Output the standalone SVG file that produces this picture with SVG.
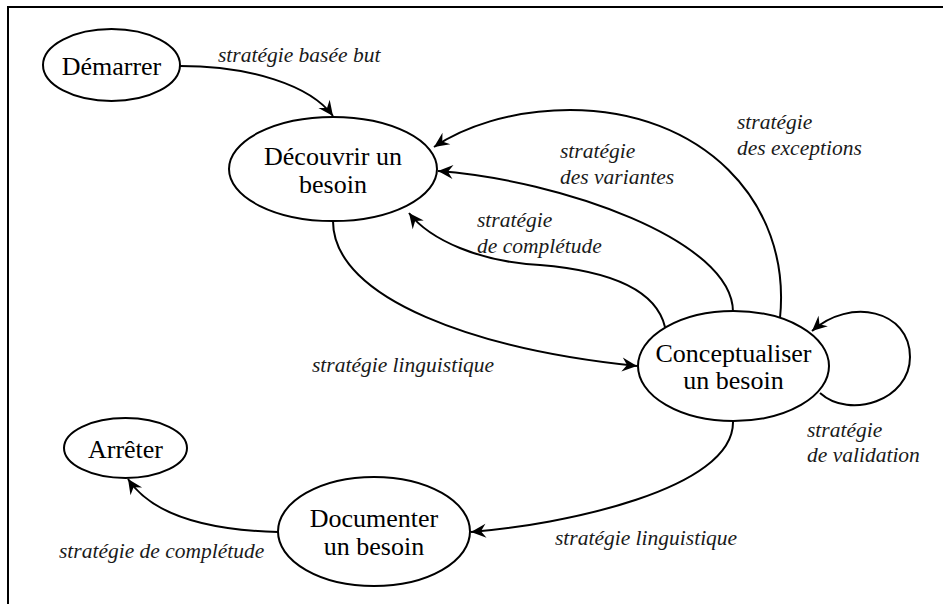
<svg xmlns="http://www.w3.org/2000/svg" width="943" height="604" viewBox="0 0 943 604" font-family="Liberation Serif, Times New Roman, serif">
  <style>
    .node ellipse { fill: #ffffff; stroke: #000000; stroke-width: 2; }
    .node text { font-size: 26px; fill: #000000; text-anchor: middle; }
    .edge { fill: none; stroke: #000000; stroke-width: 2; marker-end: url(#arrow); }
    .lbl { font-style: italic; font-size: 21.5px; fill: #1a1a1a; }
    .frame { fill: none; stroke: #000000; stroke-width: 2; }
  </style>
  <defs>
    <marker id="arrow" viewBox="-16 -8 17 16" refX="0" refY="0" markerWidth="17" markerHeight="16" markerUnits="userSpaceOnUse" orient="auto">
      <path d="M0,0 L-15,-7 L-10,0 L-15,7 Z" fill="#000000"/>
    </marker>
  </defs>

  <rect width="943" height="604" fill="#ffffff"/>
  <!-- open frame: top and left sides only -->
  <path class="frame" d="M8,604 L8,7 L943,7"/>

  <!-- connectors -->
  <g id="edges">
    <path class="edge" d="M180,66 C250,66 310,85 333,116"/>
    <path class="edge" d="M333,221 C333,300 480,350 637,366"/>
    <path class="edge" d="M665,327 C655,285 600,270 540,265 C480,262 430,240 409,213"/>
    <path class="edge" d="M733,312 C733,240 560,180 438,171"/>
    <path class="edge" d="M780,318 C792,200 700,110 570,110 C510,110 462,128 434,147"/>
    <path class="edge" d="M820,393 C850,420 910,400 910,357 C910,310 850,297 812,331"/>
    <path class="edge" d="M733,421 C735,490 560,525 471,532"/>
    <path class="edge" d="M278,532 C200,530 150,512 128,479"/>
  </g>

  <!-- connector labels -->
  <g id="labels" font-family="Liberation Serif, serif">
    <text class="lbl" x="218" y="62">stratégie basée but</text>
    <text class="lbl" x="737" y="129">stratégie</text>
    <text class="lbl" x="737" y="155">des exceptions</text>
    <text class="lbl" x="560" y="158">stratégie</text>
    <text class="lbl" x="560" y="184">des variantes</text>
    <text class="lbl" x="477" y="227">stratégie</text>
    <text class="lbl" x="477" y="253">de complétude</text>
    <text class="lbl" x="312" y="372">stratégie linguistique</text>
    <text class="lbl" x="807" y="437">stratégie</text>
    <text class="lbl" x="807" y="462">de validation</text>
    <text class="lbl" x="555" y="545">stratégie linguistique</text>
    <text class="lbl" x="59" y="558">stratégie de complétude</text>
  </g>

  <!-- nodes -->
  <g id="demarrer" class="node">
    <ellipse cx="111.5" cy="65" rx="68.5" ry="36"/>
    <text x="111.5" y="75">Démarrer</text>
  </g>
  <g id="decouvrir" class="node">
    <ellipse cx="333" cy="169" rx="104" ry="52"/>
    <text x="333" y="165">Découvrir un</text>
    <text x="333" y="193">besoin</text>
  </g>
  <g id="conceptualiser" class="node">
    <ellipse cx="733.5" cy="366" rx="95.5" ry="55"/>
    <text x="733.5" y="362">Conceptualiser</text>
    <text x="733.5" y="389">un besoin</text>
  </g>
  <g id="arreter" class="node">
    <ellipse cx="125.5" cy="448" rx="61.5" ry="30"/>
    <text x="125.5" y="458">Arrêter</text>
  </g>
  <g id="documenter" class="node">
    <ellipse cx="374" cy="531.5" rx="96" ry="54.5"/>
    <text x="374" y="527">Documenter</text>
    <text x="374" y="555">un besoin</text>
  </g>
</svg>
